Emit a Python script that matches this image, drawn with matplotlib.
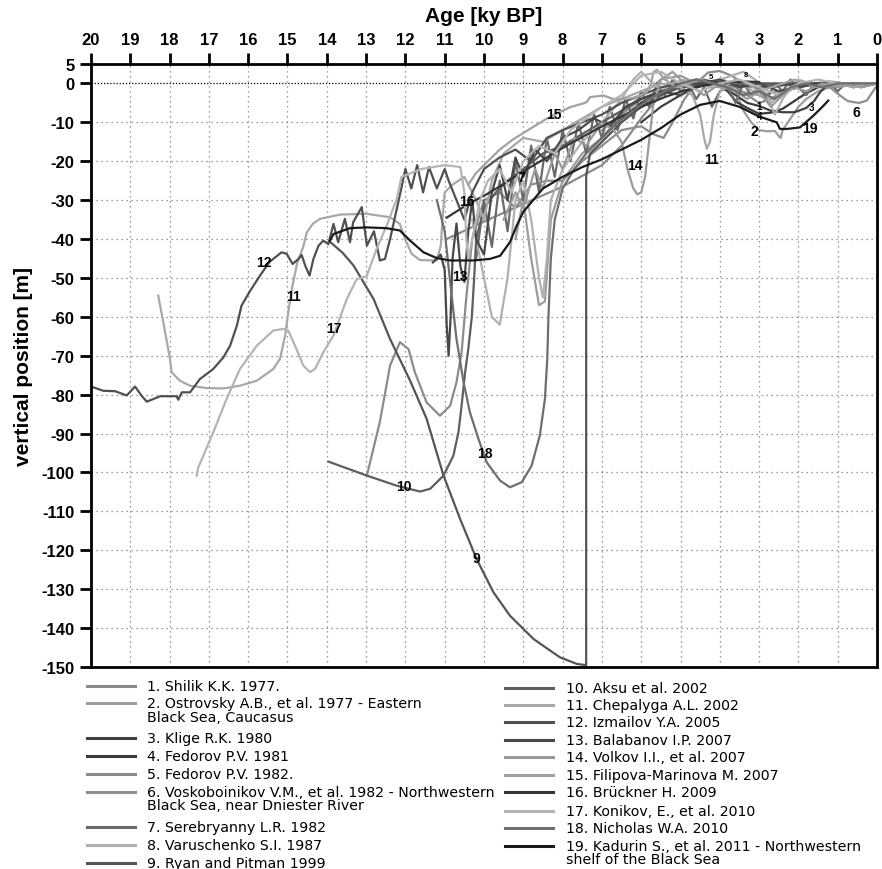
import matplotlib
matplotlib.use("Agg")
import matplotlib.pyplot as plt
import matplotlib.font_manager as fm
from matplotlib.lines import Line2D

plt.rcParams["axes.unicode_minus"] = False

# ---- data: (age ky BP, vertical position m) per study ----
age_1 = [10.95, 10.0, 9.0, 8.0, 7.0, 6.5, 6.0, 5.6, 5.2, 4.8, 4.4, 4.0, 3.6, 3.3, 3.0, 2.7, 2.4, 2.0, 1.6, 1.2, 0.8, 0.4, 0]
dep_1 = [-40, -35.5, -31, -26.5, -21, -16, -9, -4, -1, 0, 1, 0, -1, -3, -5, -4, -2, -1, 0, 0.5, 0, -1, 0]

age_2 = [9.2, 9.0, 8.8, 8.6, 8.45, 8.3, 8.0, 7.5, 7.0, 6.5, 6.0, 5.5, 5.0, 4.6, 4.2, 3.9, 3.6, 3.4, 3.2, 3.0, 2.8, 2.6, 2.5, 2.45, 2.4, 2.2, 2.0, 1.8, 1.5, 1.2, 0.8, 0.4, 0]
dep_2 = [-40, -30, -45, -57, -56, -35, -25, -18, -14, -8, -3, 1, 2, 0, -1, 1, -2, -7, -10, -12, -12.3, -12.2, -13.5, -14, -12, -9, -6, -4, -2, -1, 0, -1, 0]

age_3 = [6.0, 5.5, 5.0, 4.6, 4.2, 3.9, 3.6, 3.3, 3.0, 2.7, 2.4, 2.1, 1.8, 1.6, 1.45, 1.3, 1.0, 0.6, 0.3, 0]
dep_3 = [-10, -6, -3, -1, 0, -1, -3, -5, -5.8, -7, -7.4, -7.4, -6.3, -4.5, -2.3, -0.7, 0, 0, 0, 0]

age_4 = [7.0, 6.5, 6.0, 5.5, 5.0, 4.6, 4.2, 3.8, 3.57, 3.3, 3.0, 2.7, 2.4, 2.1, 1.8, 1.5, 1.2, 0.8, 0.4, 0]
dep_4 = [-14, -9, -5, -2, 0, 1, 0.5, -2, -4.8, -6.3, -7.8, -7.5, -6.5, -4.5, -2.5, -1, 0, 0, 0, 0]

age_5 = [12.98, 12.65, 12.39, 12.14, 11.92, 11.76, 11.46, 11.12, 10.86, 10.70, 10.57, 10.45, 10.3, 10.0, 9.6, 9.2, 8.8, 8.4, 8.0, 7.5, 7.0, 6.5, 6.0, 5.7, 5.43, 5.2, 4.9, 4.6, 4.3, 4.0, 3.7, 3.4, 3.0, 2.6, 2.2, 1.8, 1.4, 1.0, 0.5, 0]
dep_5 = [-100.8, -87, -72.5, -66.5, -68.3, -74.2, -82, -85.4, -82.8, -76.8, -69.1, -55, -40, -30, -28, -32, -26, -25, -25, -20, -16, -12, -11, -13, -14, -10, -4, 0, 2.8, 3.2, 2, 0, -1, -1, 0, 0, -0.5, 0, -0.5, 0]

age_6 = [7.0, 6.5, 6.0, 5.5, 5.0, 4.5, 4.0, 3.5, 3.0, 2.5, 2.0, 1.5, 1.2, 0.94, 0.75, 0.6, 0.45, 0.26, 0.1, 0]
dep_6 = [-12, -8, -4, -2, -1, 0, -1, -2, -3, -2, -1, 0, -1, -3.1, -4.5, -4.8, -5, -4.4, -2, -0.5]

age_7 = [10.2, 10.0, 9.8, 9.6, 9.4, 9.2, 9.0, 8.8, 8.6, 8.4, 8.2, 8.0, 7.8, 7.6, 7.4, 7.2, 7.0, 6.8, 6.6, 6.4, 6.2, 6.0, 5.8, 5.6, 5.4, 5.2,
         5.0, 4.8, 4.6, 4.4, 4.2, 4.0, 3.8, 3.6, 3.4, 3.2, 3.0, 2.8, 2.6, 2.4, 2.2, 2.0, 1.8, 1.6, 1.4, 1.2, 1.0, 0.8, 0.6, 0.4, 0.2, 0]
dep_7 = [-45, -30, -42, -25, -38, -20, -30, -16, -28, -14, -24, -12, -20, -10, -18, -8, -14, -6, -12, -4, -9, -2, -6, 0, -3, 1,
         -2, 0, -4, -1, -6, -2, -1, -5, 0, -3, -1, -4, 0, -2, 1, -1, -3, 0, -1, 0, -2, 0, -1, 0, 0, 0]

age_8 = [10.3, 10.0, 9.8, 9.6, 9.4, 9.2, 9.0, 8.8, 8.6, 8.5, 8.4, 8.3, 8.0, 7.5, 7.0, 6.5, 6.2, 6.0, 5.8, 5.5, 5.2, 4.9, 4.6, 4.3, 4.0, 3.7, 3.4, 3.1, 2.8, 2.6, 2.4, 2.2, 2.0, 1.7, 1.4, 1.0, 0.6, 0.3, 0]
dep_8 = [-35, -50, -60, -62, -50, -30, -25, -35, -50, -55, -45, -30, -22, -15, -10, -4, 1, 3, 1, -2, 0, 1, -1, 0, 1, 2, 3, 1, -3, -8, -4, -1, 1, 0, -1, 0, -1, 0, 0]

age_9 = [13.92, 13.6, 13.32, 12.81, 12.39, 11.88, 11.46, 11.03, 10.61, 10.19, 9.76, 9.34, 8.74, 8.07, 7.64, 7.43, 7.40, 7.40, 7.3, 7.0, 6.5, 6.0, 5.5, 5.0, 4.0, 3.0, 2.0, 1.0, 0]
dep_9 = [-40.7, -43.5, -46.8, -55.4, -65.7, -76.4, -86.2, -100.8, -111.9, -122.2, -130.8, -136.8, -142.8, -147.5, -149.2, -149.5, -149.5, -23.7, -18, -15, -10, -6, -3, -1, 0, 0, 0, 0, 0]

age_10 = [13.96, 12.98, 12.22, 11.63, 11.37, 11.03, 10.78, 10.65, 10.57, 10.48, 10.40, 10.31, 10.25, 10.2, 10.0, 9.7, 9.4, 9.0, 8.5, 8.0, 7.5, 7.0, 6.5, 6.0, 5.5, 5.0, 4.5, 4.0, 3.0, 2.0, 1.0, 0]
dep_10 = [-97.2, -100.8, -103.4, -104.9, -104.2, -100.8, -95.7, -89.7, -82.8, -74.2, -68.3, -60, -50, -40, -32, -28, -25, -22, -18, -16, -13, -10, -7, -4, -2, -1, 0, 0.5, 0, -0.5, 0, 0]

age_11 = [18.29, 18.16, 17.99, 17.95, 17.74, 17.48, 17.06, 16.63, 16.21, 15.78, 15.36, 15.19, 15.06, 14.98, 14.89, 14.75, 14.6, 14.51, 14.35, 14.17, 13.66, 12.99, 12.39, 12.14, 12.01, 11.84, 11.63, 11.20, 11.10, 11.05, 11.0,
          10.8, 10.5, 10.2, 10.0, 9.8, 9.5, 9.0, 8.5, 8.0, 7.5, 7.0, 6.5, 6.0, 5.5, 5.0, 4.7, 4.5, 4.4, 4.33, 4.25, 4.15, 4.0, 3.7, 3.3, 3.0, 2.7, 2.4, 2.0, 1.5, 1.0, 0.5, 0]
dep_11 = [-54.5, -61.4, -70.8, -74.2, -76.4, -77.7, -78.3, -78.4, -77.7, -76.4, -73.4, -70.8, -64.8, -58.8, -52.8, -46, -42, -38.3, -36, -34.8, -33.7, -33.5, -34.4, -36.1, -40.0, -43.8, -45.4, -45.5, -41.7, -34.0, -28,
          -26, -24, -30, -35, -25, -18, -14, -15, -12, -9, -6, -4, -2, 0, -1, -3, -8, -14, -16.8, -15, -8, -2, 0, -1, -3, -5, -2, 0, -1, 0, 0, 0]

age_12 = [20.0, 19.94, 19.69, 19.39, 19.09, 18.88, 18.71, 18.58, 18.24, 17.82, 17.78, 17.69, 17.48, 17.23, 16.89, 16.63, 16.46, 16.29, 16.17, 15.95, 15.70, 15.45, 15.15, 15.02, 14.87, 14.72, 14.64, 14.55, 14.44, 14.34, 14.21, 14.09, 13.96,
          13.83, 13.71, 13.54, 13.41, 13.33, 13.11, 12.98, 12.8, 12.65, 12.52, 12.39, 12.22, 12.09, 12.0, 11.85, 11.7, 11.55, 11.4, 11.2, 11.0, 10.9,
          10.7, 10.5, 10.3, 10.0, 9.6, 9.2, 8.8, 8.4, 8.0, 7.5, 7.0, 6.5, 6.0, 5.5, 5.0, 4.0, 3.0, 2.0, 1.0, 0]
dep_12 = [-78.5, -78.1, -79.0, -79.1, -80.2, -77.9, -80.3, -81.8, -80.4, -80.4, -81.3, -79.4, -79.4, -76.0, -73.4, -70.4, -67.4, -62.3, -57.1, -53.3, -49.4, -45.8, -43.4, -43.8, -46.4, -45.1, -44.1, -46.8, -49.4, -45.1, -41.7, -40.4, -41.3,
          -36.1, -40.8, -34.8, -40.8, -35.7, -31.8, -41.7, -38, -45.5, -45.1, -40.0, -32.3, -26.3, -22, -27, -21, -28, -21.5, -27, -22, -25,
          -30, -35, -28, -22, -19, -17, -20, -14, -12, -10, -8, -5, -3, -1, 0, 0, -1, 0, 0, 0]

age_13 = [11.3, 11.1, 11.0, 10.95, 10.9, 10.85, 10.8, 10.7, 10.6, 10.5, 10.4, 10.3, 10.2, 10.0, 9.8, 9.6, 9.4, 9.2, 9.0, 8.7, 8.4, 8.0, 7.6, 7.2, 6.8, 6.4, 6.0, 5.5, 5.0, 4.5, 4.0, 3.5, 3.0, 2.5, 2.0, 1.5, 1.0, 0.5, 0]
dep_13 = [-46, -44, -48, -62, -70, -60, -45, -36, -47, -51, -38, -30, -40, -44, -28, -21, -30, -19, -24, -17, -20, -14, -12, -9, -11, -6, -4, -2, -3, 0, 1, -1, 0, -2, -1, 0, 0, 0, 0]

age_14 = [9.5, 9.2, 9.0, 8.7, 8.5, 8.2, 8.0, 7.7, 7.4, 7.0, 6.7, 6.5, 6.35, 6.2, 6.1, 6.0, 5.9, 5.8, 5.7, 5.5, 5.2, 5.0, 4.7, 4.4, 4.0, 3.6, 3.3, 3.0, 2.7, 2.4, 2.1, 1.8, 1.4, 1.0, 0.5, 0]
dep_14 = [-35, -28, -32, -22, -27, -18, -22, -14, -16, -10, -12, -15, -22, -27, -28.5, -28, -24, -15, -6, 1, 3, 1, -1, -3, 0, -2, -4, -2, -6, -3, -1, -2, 0, -1, 0, 0]

age_15 = [10.4, 10.2, 9.93, 9.6, 9.25, 8.8, 8.41, 8.1, 7.81, 7.5, 7.39, 7.30, 6.96, 6.71, 6.37, 6.11, 5.86, 5.75, 5.69, 5.6, 5.4, 5.1, 4.8, 4.5, 4.2, 3.9, 3.6, 3.3, 3.0, 2.7, 2.4, 2.1, 1.8, 1.5, 1.2, 0.9, 0.6, 0.3, 0]
dep_15 = [-26, -23, -20.3, -17, -14.3, -11.5, -9.1, -7.5, -6.1, -5.2, -4.8, -3.5, -3.1, -4.0, -4.0, -3.5, -2.3, 0, 2.9, 3.5, 1, -1, 0, 1, 0, -1, 1, 0, -2, -1, 0, 1, 0, -1, 0, 0, -1, 0, 0]

age_16 = [10.95, 10.4, 9.9, 9.4, 8.9, 8.4, 7.9, 7.4, 6.9, 6.4, 5.9, 5.4, 4.9, 4.4, 3.9, 3.4, 3.0]
dep_16 = [-34.5, -31, -28.3, -25.2, -22.0, -19.0, -16.0, -13.2, -10.5, -8, -5.6, -3.5, -1.8, -0.5, 0.2, 0.5, 0.4]

age_17 = [17.31, 17.27, 16.89, 16.55, 16.21, 15.78, 15.36, 15.10, 14.98, 14.77, 14.60, 14.43, 14.30, 14.17, 14.09, 13.83, 13.49, 13.24, 12.99, 12.73, 12.48, 12.22, 12.1, 11.6, 11.0, 10.6, 10.5, 10.45, 10.4, 10.3, 10.1, 9.9,
          9.6, 9.3, 9.0, 8.6, 8.2, 7.8, 7.4, 7.0, 6.5, 6.0, 5.5, 5.0, 4.5, 4.0, 3.5, 3.0, 2.5, 2.0, 1.5, 1.0, 0.5, 0]
dep_17 = [-100.8, -98.7, -89.7, -81.1, -73.4, -67.4, -63.5, -63.1, -63.5, -68.3, -72.5, -74.2, -73.4, -70.8, -69.1, -64.8, -55.4, -50.3, -49.6, -42.5, -36.6, -29.7, -24, -22, -21, -21.5, -28, -40, -45, -40, -30, -25,
          -22, -28, -20, -16, -18, -12, -9, -6, -3, 2, 3, 0, -2, 0, 1, -1, -3, 0, 1, 0, 0, 0]

age_18 = [11.2, 11.0, 10.85, 10.7, 10.52, 10.36, 10.14, 9.93, 9.59, 9.34, 9.04, 8.79, 8.58, 8.45, 8.39, 8.36, 8.3, 8.2, 8.0, 7.7, 7.4, 7.0, 6.6, 6.2, 5.8, 5.4, 5.0, 4.6, 4.2, 3.8, 3.4, 3.0, 2.6, 2.2, 1.8, 1.4, 1.0, 0.5, 0]
dep_18 = [-30, -38, -52, -65.7, -76.8, -84.5, -91.4, -97.4, -102.1, -103.8, -102.5, -98.3, -90.5, -81.1, -70.8, -60, -45, -35, -27, -22, -18, -14, -10, -7, -4, -2, 0, 1, 0, -1, -3, -2, -4, -1, 0, -1, 0, 0, 0]

age_19 = [13.92, 13.83, 13.41, 12.98, 12.48, 12.14, 11.88, 11.54, 11.20, 10.86, 10.27, 9.85, 9.59, 9.34, 9.17, 9.0, 8.5, 8.0, 7.5, 7.0, 6.5, 6.0, 5.5, 5.0, 4.5, 4.0, 3.5, 3.0, 2.55, 2.47, 2.30, 1.96, 1.62, 1.36, 1.24]
dep_19 = [-40.4, -38.7, -37.2, -37.0, -37.2, -37.8, -40.4, -43.4, -44.9, -45.5, -45.5, -45.1, -44.3, -40.8, -36.6, -33, -27, -24, -21.5, -19.5, -17, -14.5, -11.5, -8, -5.5, -4.5, -6, -8.5, -10, -11.7, -11.7, -11.3, -8.3, -5.7, -4.4]

colors = ["#8a8a8a", "#9c9c9c", "#404040", "#3a3a3a", "#8c8c8c", "#909090", "#6a6a6a", "#b0b0b0", "#555555", "#5e5e5e",
          "#a8a8a8", "#505050", "#484848", "#9a9a9a", "#a2a2a2", "#363636", "#b4b4b4", "#6e6e6e", "#1a1a1a"]

labels_left = ["1. Shilik K.K. 1977.",
               "2. Ostrovsky A.B., et al. 1977 - Eastern\nBlack Sea, Caucasus",
               "3. Klige R.K. 1980",
               "4. Fedorov P.V. 1981",
               "5. Fedorov P.V. 1982.",
               "6. Voskoboinikov V.M., et al. 1982 - Northwestern\nBlack Sea, near Dniester River",
               "7. Serebryanny L.R. 1982",
               "8. Varuschenko S.I. 1987",
               "9. Ryan and Pitman 1999"]
labels_right = ["10. Aksu et al. 2002",
                "11. Chepalyga A.L. 2002",
                "12. Izmailov Y.A. 2005",
                "13. Balabanov I.P. 2007",
                "14. Volkov I.I., et al. 2007",
                "15. Filipova-Marinova M. 2007",
                "16. Brückner H. 2009",
                "17. Konikov, E., et al. 2010",
                "18. Nicholas W.A. 2010",
                "19. Kadurin S., et al. 2011 - Northwestern\nshelf of the Black Sea"]

# curve number tags: (text, age, depth, size)
tags = [("15", 8.23, -7.8, 10), ("14", 6.16, -21.0, 10), ("7", 9.04, -24.1, 10), ("16", 10.44, -30.1, 10),
        ("13", 10.61, -49.4, 10), ("12", 15.61, -46.0, 10), ("11", 14.85, -54.7, 10), ("17", 13.83, -62.9, 10),
        ("10", 12.05, -103.4, 10), ("18", 9.97, -95.1, 10), ("9", 10.19, -122.1, 10), ("11", 4.21, -19.4, 10),
        ("2", 3.13, -12.1, 10), ("19", 1.70, -11.5, 10), ("6", 0.52, -7.4, 10), ("1", 3.0, -5.7, 7),
        ("4", 2.98, -8.4, 7), ("3", 1.68, -6.1, 7), ("5", 4.23, 1.9, 5.5), ("8", 3.33, 2.4, 5.5)]

ages = [age_1, age_2, age_3, age_4, age_5, age_6, age_7, age_8, age_9, age_10,
        age_11, age_12, age_13, age_14, age_15, age_16, age_17, age_18, age_19]
deps = [dep_1, dep_2, dep_3, dep_4, dep_5, dep_6, dep_7, dep_8, dep_9, dep_10,
        dep_11, dep_12, dep_13, dep_14, dep_15, dep_16, dep_17, dep_18, dep_19]

names = {f.name for f in fm.fontManager.ttflist}
tick_font = "Liberation Sans Narrow" if "Liberation Sans Narrow" in names else "Liberation Sans"

W, H = 882, 870
fig = plt.figure(figsize=(W / 100, H / 100), dpi=100)
ax = fig.add_axes([91 / W, 1 - 668 / H, (877 - 91) / W, (668 - 65) / H])
ax.set_xlim(20, 0)
ax.set_ylim(-150, 5)

# grid
for a in range(1, 20):
    ax.axvline(a, color="#7a7a7a", ls=(0, (1, 3)), lw=0.9, zorder=0)
for d in range(-140, 0, 10):
    ax.axhline(d, color="#7a7a7a", ls=(0, (1, 3)), lw=0.9, zorder=0)
ax.axhline(0, color="black", ls=(0, (1, 1.5)), lw=0.9, zorder=0)

for i in range(19):
    ax.plot(ages[i], deps[i], color=colors[i], lw=1.6, solid_joinstyle="round", zorder=2)

for t, a, d, s in tags:
    ax.text(a, d, t, fontsize=s, fontweight="bold", family="Liberation Sans",
            ha="center", va="center", color="black", zorder=5)

ax.xaxis.tick_top()
ax.xaxis.set_label_position("top")
ax.set_xticks(range(20, -1, -1))
ax.set_yticks([5] + list(range(0, -151, -10)))
ax.tick_params(direction="out", length=8, width=2, pad=4)
for lab in ax.get_xticklabels() + ax.get_yticklabels():
    lab.set_fontfamily(tick_font)
    lab.set_fontweight("bold")
    lab.set_fontsize(12)
for sp in ax.spines.values():
    sp.set_linewidth(2)

ax.set_xlabel("Age [ky BP]", fontsize=15, fontweight="bold", family="Liberation Sans", labelpad=8)
ax.set_ylabel("vertical position [m]", fontsize=15, fontweight="bold", family="Liberation Sans", labelpad=6)

# legend, drawn in two columns below the plot
rows_left = [686.7, 704.3, 739.3, 757.3, 775.3, 793.0, 828.3, 846.0, 863.7]
rows_right = [689.3, 706.0, 723.3, 741.0, 758.3, 776.0, 793.3, 811.7, 829.3, 846.7]

def legend_col(labels, rows, cols, x0, x1, xt):
    for lab, y, c in zip(labels, rows, cols):
        fy = 1 - y / H
        fig.add_artist(Line2D([x0 / W, x1 / W], [fy, fy], color=c, lw=2.2, transform=fig.transFigure))
        parts = lab.split("\n")
        for k, p in enumerate(parts):
            fig.text(xt / W, 1 - (y + 13.3 * k) / H, p, fontsize=10.2, family="DejaVu Sans",
                     ha="left", va="center", color="black")

legend_col(labels_left, rows_left, colors[:9], 87, 135, 147)
legend_col(labels_right, rows_right, colors[9:], 505, 553, 566)

fig.savefig("out.png", dpi=100)
